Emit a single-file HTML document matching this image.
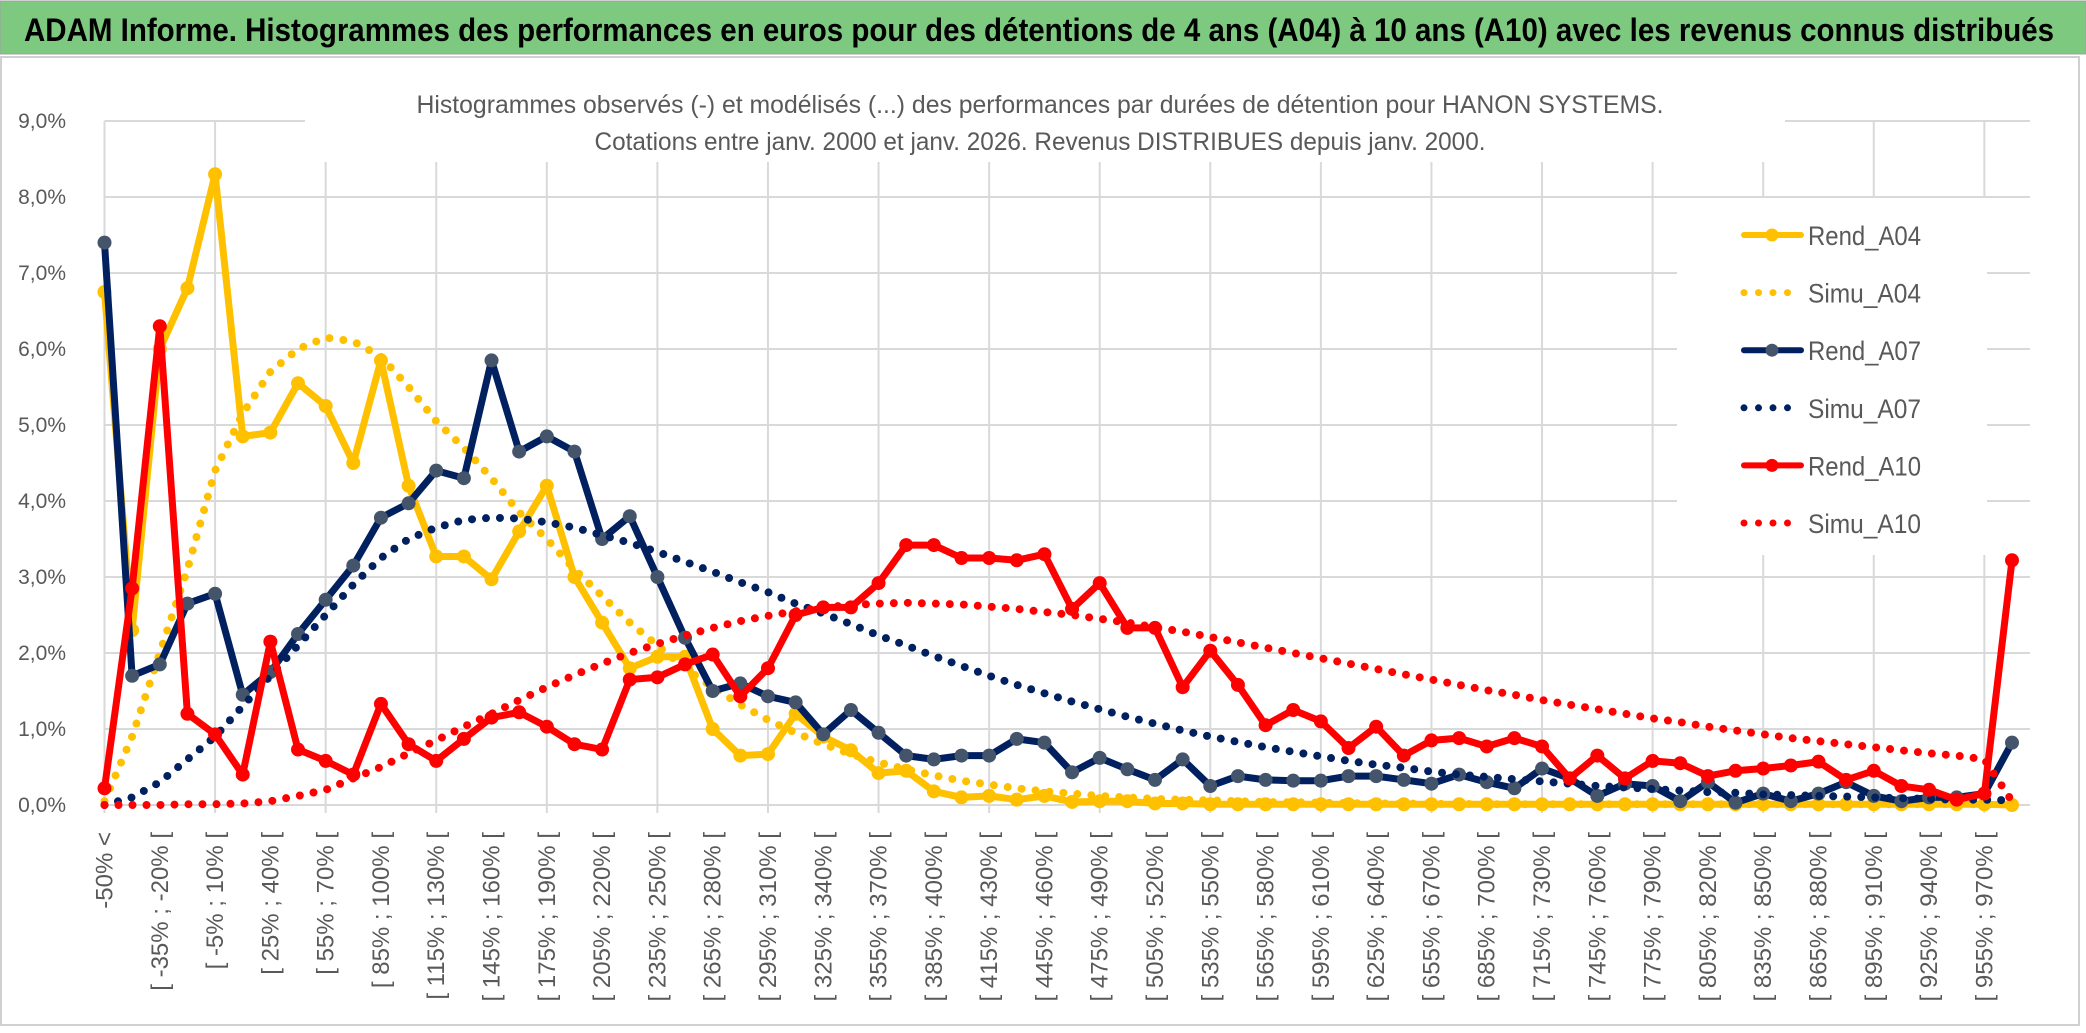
<!DOCTYPE html>
<html><head><meta charset="utf-8"><style>
html,body{margin:0;padding:0;background:#fff;}
svg{display:block;font-family:"Liberation Sans",sans-serif;}
</style></head><body>
<svg id="chart" width="2086" height="1033" viewBox="0 0 2086 1033" xmlns="http://www.w3.org/2000/svg">
<rect x="0" y="0" width="2086" height="1033" fill="#fff"/>
<rect x="0" y="1" width="2086" height="53" fill="#7DC97F" stroke="#a0a0a0" stroke-width="1"/>
<text x="24" y="41" font-size="32" font-weight="bold" fill="#000" textLength="2030" lengthAdjust="spacingAndGlyphs">ADAM Informe. Histogrammes des performances en euros pour des détentions de 4 ans (A04) à 10 ans (A10) avec les revenus connus distribués</text>
<rect x="1" y="57" width="2078" height="968" fill="#fff" stroke="#d0d0d0" stroke-width="2"/>
<g id="grid"></g>
<g id="yaxis"></g>
<g id="xaxis"></g>
<rect x="305" y="70" width="1480" height="92" fill="#fff"/>
<text x="1040" y="113" font-size="25" fill="#595959" text-anchor="middle" textLength="1247" lengthAdjust="spacingAndGlyphs">Histogrammes observés (-) et modélisés (...) des performances par durées de détention pour HANON SYSTEMS.</text>
<text x="1040" y="150" font-size="25" fill="#595959" text-anchor="middle" textLength="891" lengthAdjust="spacingAndGlyphs">Cotations entre janv. 2000 et janv. 2026. Revenus DISTRIBUES depuis janv. 2000.</text>
<g id="series"></g>
<g id="legend"></g>
</svg>
<script>
const rendA04 = [6.75,2.3,6.0,6.8,8.3,4.85,4.9,5.55,5.25,4.5,5.85,4.2,3.27,3.27,2.97,3.6,4.2,3.0,2.4,1.8,1.95,1.95,1.0,0.65,0.67,1.2,0.9,0.72,0.42,0.45,0.18,0.1,0.12,0.07,0.12,0.04,0.05,0.05,0.02,0.02,0.01,0.01,0.01,0.01,0.01,0.01,0.01,0.01,0.01,0.01,0.01,0.01,0.01,0.01,0.01,0.01,0.01,0.01,0.01,0.01,0.01,0.01,0.01,0.01,0.01,0.01,0.01,0.01,0.01,0.0];
const simuA04 = [0.05,0.9,2.0,3.1,4.4,5.15,5.7,6.0,6.15,6.1,5.9,5.5,5.05,4.7,4.3,3.85,3.5,3.1,2.75,2.4,2.1,1.8,1.55,1.32,1.12,0.95,0.8,0.67,0.56,0.47,0.39,0.32,0.27,0.22,0.18,0.15,0.12,0.1,0.08,0.07,0.06,0.05,0.04,0.035,0.03,0.025,0.02,0.02,0.015,0.015,0.01,0.01,0.01,0.01,0.01,0.01,0.01,0.01,0.01,0.01,0.01,0.01,0.01,0.01,0.01,0.01,0.01,0.01,0.01,0.01];
const rendA07 = [7.4,1.7,1.85,2.65,2.78,1.45,1.75,2.25,2.7,3.15,3.78,3.97,4.4,4.3,5.85,4.65,4.85,4.65,3.5,3.8,3.0,2.2,1.5,1.6,1.43,1.35,0.93,1.25,0.95,0.65,0.6,0.65,0.65,0.87,0.82,0.43,0.62,0.47,0.33,0.6,0.25,0.38,0.33,0.32,0.32,0.38,0.38,0.33,0.28,0.4,0.3,0.22,0.48,0.35,0.12,0.28,0.25,0.05,0.3,0.03,0.15,0.05,0.15,0.3,0.12,0.05,0.1,0.1,0.15,0.82];
const simuA07 = [0,0.1,0.3,0.6,0.9,1.3,1.7,2.1,2.5,2.9,3.25,3.5,3.65,3.75,3.78,3.77,3.72,3.65,3.55,3.45,3.33,3.2,3.07,2.93,2.8,2.65,2.52,2.38,2.23,2.1,1.96,1.83,1.7,1.58,1.47,1.36,1.26,1.16,1.07,0.98,0.9,0.83,0.76,0.7,0.64,0.58,0.53,0.49,0.44,0.4,0.37,0.34,0.31,0.28,0.25,0.23,0.21,0.19,0.17,0.16,0.14,0.13,0.12,0.11,0.1,0.09,0.08,0.07,0.07,0.06];
const rendA10 = [0.22,2.85,6.3,1.2,0.93,0.4,2.15,0.73,0.58,0.4,1.33,0.8,0.58,0.87,1.15,1.22,1.03,0.8,0.73,1.65,1.68,1.85,1.98,1.43,1.8,2.5,2.6,2.6,2.92,3.42,3.42,3.25,3.25,3.22,3.3,2.58,2.92,2.33,2.33,1.55,2.03,1.58,1.05,1.25,1.1,0.75,1.03,0.65,0.85,0.88,0.77,0.88,0.77,0.35,0.65,0.35,0.58,0.55,0.38,0.45,0.48,0.52,0.57,0.33,0.45,0.25,0.2,0.07,0.15,3.22];
const simuA10 = [0,0,0,0.01,0.01,0.02,0.05,0.12,0.2,0.35,0.5,0.68,0.85,1.03,1.2,1.38,1.55,1.71,1.86,2.0,2.12,2.23,2.33,2.42,2.49,2.55,2.6,2.63,2.65,2.66,2.65,2.64,2.61,2.58,2.54,2.5,2.45,2.4,2.34,2.28,2.21,2.14,2.07,2.0,1.93,1.86,1.79,1.72,1.65,1.58,1.51,1.45,1.38,1.32,1.26,1.2,1.14,1.09,1.03,0.98,0.93,0.88,0.84,0.8,0.76,0.72,0.68,0.65,0.6,0.05];
const yTicks = [0,1,2,3,4,5,6,7,8,9];
const seriesNames = ["Rend_A04","Simu_A04","Rend_A07","Simu_A07","Rend_A10","Simu_A10"];

const NS="http://www.w3.org/2000/svg";
const N = rendA04.length;
const X0=104.5, X1=2012, Y0=805, Y1=121, YMAX=9;
function xs(i){return X0+(X1-X0)*i/(N-1);}
function ys(v){return Y0-(Y0-Y1)*v/YMAX;}
function mk(tag,attrs,parent){const e=document.createElementNS(NS,tag);for(const k in attrs)e.setAttribute(k,attrs[k]);parent.appendChild(e);return e;}
function fmt(v){return v.toFixed(1).replace('.',',')+'%';}
function catLabel(i){if(i===0)return '-50% <';const lo=-50+15*(i-1);return '[ '+lo+'% ; '+(lo+15)+'% ['; }

const grid=document.getElementById('grid'), yax=document.getElementById('yaxis'), xax=document.getElementById('xaxis');
yTicks.forEach(t=>{
  const l=mk('line',{x1:X0,x2:X1+18,y1:ys(t),y2:ys(t),stroke:'#d9d9d9','stroke-width':2},grid);
  
  
  const tx=mk('text',{x:66,y:ys(t)+7,'font-size':21,fill:'#595959','text-anchor':'end'},yax);
  tx.textContent=fmt(t);
  
  
});
for(let i=0;i<N;i+=4){
  const l=mk('line',{x1:xs(i),x2:xs(i),y1:Y1,y2:Y0+8,stroke:'#d9d9d9','stroke-width':2},grid);
  
  
}
for(let i=0;i<N;i+=2){
  const x=xs(i)+8, y=832;
  const tx=mk('text',{x:x,y:y,'font-size':24,fill:'#595959','text-anchor':'end',transform:'rotate(-90 '+x+' '+y+')'},xax);
  tx.textContent=catLabel(i);
  
  
}

const sg=document.getElementById('series');
function pts(arr){return arr.map((v,i)=>xs(i).toFixed(1)+','+ys(v).toFixed(1)).join(' ');}
function solid(arr,color,mfill,name){
  const g=mk('g',{},sg);
  
  
  const pl=mk('polyline',{points:pts(arr),fill:'none',stroke:color,'stroke-width':7,'stroke-linejoin':'round'},g);
  
  
  arr.forEach((v,i)=>{
    const c=mk('circle',{cx:xs(i),cy:ys(v),r:7,fill:mfill},g);
    
    
  });
}
function dotted(arr,color,name){
  const pl=mk('polyline',{points:pts(arr),fill:'none',stroke:color,'stroke-width':8,'stroke-linecap':'round','stroke-dasharray':'0 14'},sg);
  
  
}
solid(rendA04,'#FFC000','#FFC000','rend-a04');
dotted(simuA04,'#FFC000','simu-a04');
solid(rendA07,'#002060','#44546A','rend-a07');
dotted(simuA07,'#002060','simu-a07');
solid(rendA10,'#FF0000','#FF0000','rend-a10');
dotted(simuA10,'#FF0000','simu-a10');

const lg=document.getElementById('legend');
const bg=mk('rect',{x:1677,y:198,width:310,height:357,fill:'#fff'},lg);


const lc=['#FFC000','#FFC000','#002060','#002060','#FF0000','#FF0000'];
const lm=['#FFC000',null,'#44546A',null,'#FF0000',null];
seriesNames.forEach((nm,k)=>{
  const y=235+k*57.6;
  const g=mk('g',{},lg);
  
  
  if(lm[k]){
    mk('line',{x1:1744,x2:1801,y1:y,y2:y,stroke:lc[k],'stroke-width':6,'stroke-linecap':'round'},g);
    mk('circle',{cx:1772,cy:y,r:6.5,fill:lm[k]},g);
  } else {
    mk('line',{x1:1744,x2:1800,y1:y,y2:y,stroke:lc[k],'stroke-width':7,'stroke-linecap':'round','stroke-dasharray':'0 14.5'},g);
  }
  const t=mk('text',{x:1808,y:y+10,'font-size':27,fill:'#595959',textLength:113,lengthAdjust:'spacingAndGlyphs'},g);
  t.textContent=nm;
});
</script>
</body></html>
